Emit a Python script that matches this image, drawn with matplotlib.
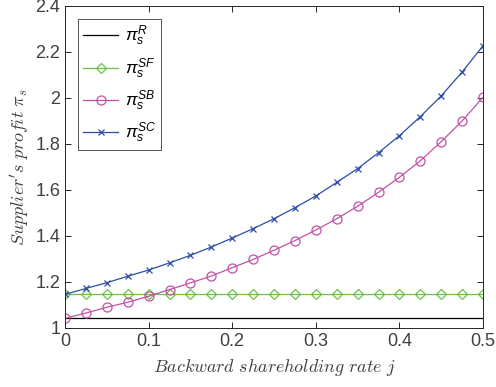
import numpy as np
import matplotlib
matplotlib.use("Agg")
import matplotlib.pyplot as plt
from matplotlib.font_manager import FontProperties

plt.rcParams['font.family'] = ['Liberation Sans', 'DejaVu Sans']
plt.rcParams['mathtext.fontset'] = 'custom'
plt.rcParams['mathtext.it'] = 'Liberation Sans:italic'
plt.rcParams['mathtext.rm'] = 'Liberation Sans'

j = [0.0, 0.025, 0.05, 0.075, 0.1, 0.125, 0.15, 0.175, 0.2, 0.225, 0.25,
     0.275, 0.3, 0.325, 0.35, 0.375, 0.4, 0.425, 0.45, 0.475, 0.5]
pi_R = [1.043] * 21
pi_SF = [1.146] * 21
pi_SB = [1.042, 1.065, 1.090, 1.112, 1.138, 1.167, 1.196, 1.226, 1.262, 1.298,
         1.338, 1.380, 1.426, 1.475, 1.529, 1.590, 1.655, 1.727, 1.810, 1.900, 2.003]
pi_SC = [1.146, 1.172, 1.197, 1.225, 1.252, 1.283, 1.316, 1.352, 1.391, 1.432,
         1.475, 1.523, 1.574, 1.633, 1.693, 1.762, 1.836, 1.919, 2.009, 2.113, 2.227]
labels = [r'$\pi_s^R$', r'$\pi_s^{SF}$', r'$\pi_s^{SB}$', r'$\pi_s^{SC}$']
xticks = [0, 0.1, 0.2, 0.3, 0.4, 0.5]
yticks = [1, 1.2, 1.4, 1.6, 1.8, 2, 2.2, 2.4]

fig = plt.figure(figsize=(4.96, 3.87), dpi=100)
ax = fig.add_axes([65/496, 1-328/387, (483-65)/496, (328-6)/387])

ax.plot(j, pi_R, color='#000000', lw=0.9, label=labels[0])
ax.plot(j, pi_SF, color='#6DC245', lw=0.9, marker='D', ms=5.5, mfc='none', mew=0.9, label=labels[1])
ax.plot(j, pi_SB, color='#C450A6', lw=0.9, marker='o', ms=6.5, mfc='none', mew=0.9, label=labels[2])
ax.plot(j, pi_SC, color='#2C4EA8', lw=0.9, marker='x', ms=4.5, mew=0.9, label=labels[3])

ax.set_xlim(0, 0.5)
ax.set_ylim(1, 2.4)
ax.set_xticks(xticks)
ax.set_yticks(yticks)
ax.set_xticklabels(['%g' % t for t in xticks])
ax.set_yticklabels(['%g' % t for t in yticks])
ax.tick_params(direction='in', top=True, right=True, labelsize=13, colors='#262626',
               length=4, width=0.7, labelcolor='#404040')
for s in ax.spines.values():
    s.set_color('#262626')
    s.set_linewidth(0.7)

ax.set_xlabel(r'$Backward\ shareholding\ rate\ j$', fontsize=13, color='#404040',
              math_fontfamily='cm', labelpad=5)
ax.set_ylabel(r"$Supplier's\ profit\ \pi_s$", fontsize=13, color='#404040',
              math_fontfamily='cm', labelpad=3)

leg = ax.legend(loc='upper left', prop=FontProperties(family='Liberation Sans', size=12.5),
                frameon=True, fancybox=False, edgecolor='#262626', handlelength=2.0,
                labelspacing=0.45, borderpad=0.3, handletextpad=0.4,
                borderaxespad=0, bbox_to_anchor=(0.031, 0.96))
leg.get_frame().set_linewidth(0.7)

fig.savefig('out.png', dpi=100)
